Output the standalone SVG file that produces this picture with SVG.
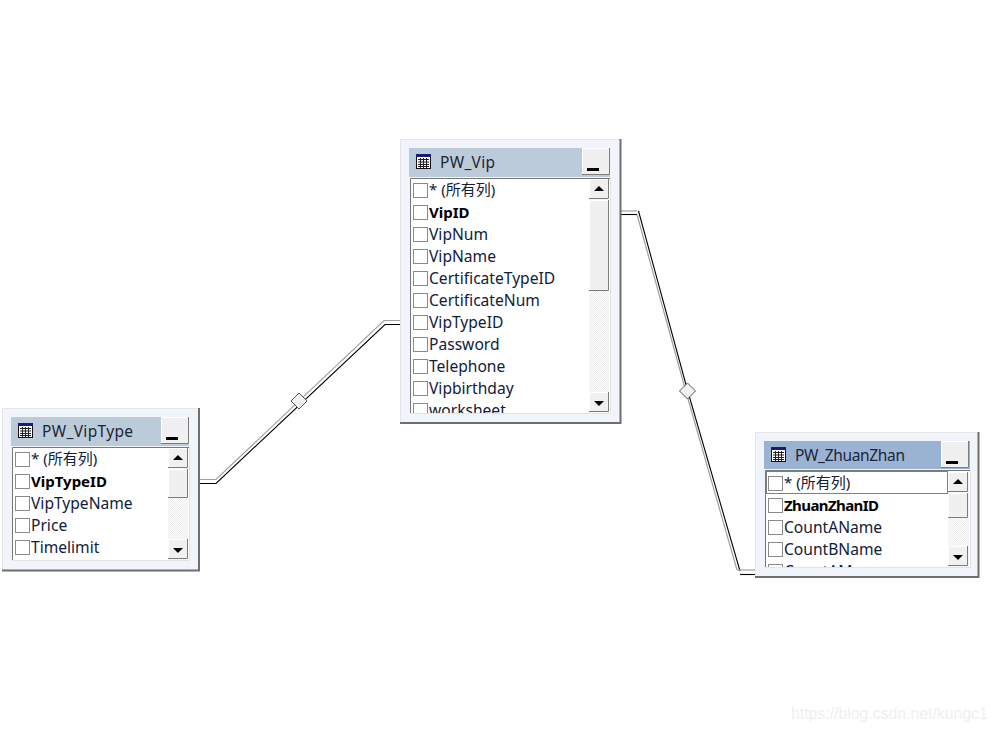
<svg xmlns="http://www.w3.org/2000/svg" width="995" height="731" viewBox="0 0 995 731">
<style>
text{font-family:"Noto Sans","Noto Sans CJK SC",sans-serif;font-size:15.6px;fill:#10203a}
.s{font-size:15px}
.b{font-size:15px;font-weight:700;fill:#000}
.t{font-size:15.5px;fill:#1c2533}
.frame{fill:#f1f4fa;stroke:#e4e6e8;stroke-width:1}
.edgeR{fill:none;stroke:#6f6f6f;stroke-width:2}
.list{fill:#fff}
.ltl{fill:none;stroke:#777;stroke-width:1}
.lbr{fill:none;stroke:#e4e4e4;stroke-width:1}
.cb{fill:#fff;stroke:#8a8a8a;stroke-width:1}
.btn{fill:#f0f0f0}
.hl{fill:none;stroke:#fff;stroke-width:1}
.sh{fill:none;stroke:#7c7c7c;stroke-width:1}
.gl{fill:none;stroke:#a0a0a0;stroke-width:1.2}
.bl{fill:none;stroke:#000;stroke-width:1.1}
.dia{fill:#f0f0f0;stroke:#555;stroke-width:1}
.wm{font-family:"Liberation Sans",sans-serif;font-size:15.8px;fill:#efefef}
</style>
<defs>
<pattern id="hatch" width="2" height="2" patternUnits="userSpaceOnUse"><rect width="2" height="2" fill="#fff"/><rect width="1" height="1" fill="#ececec"/><rect x="1" y="1" width="1" height="1" fill="#ececec"/></pattern>
<g id="icon"><rect x="0" y="0" width="15" height="15" fill="#111"/><rect x="0" y="0" width="15" height="3" fill="#1a1a78"/><rect x="1" y="3" width="13" height="11" fill="#fff"/><path d="M2 5.500H13M2 8H13M2 10.500H13M2 12.500H13M4.500 4V14M7.500 4V14M10.500 4V14" stroke="#222" stroke-width="1" fill="none"/></g>
<g id="min"><rect x="0" y="0" width="28" height="27" class="btn"/><path d="M0.500 27V0.500H28" class="hl"/><path d="M27.500 0V26.500H0" class="sh"/><rect x="5" y="20" width="12" height="3" fill="#000"/></g>
<g id="up"><rect x="0" y="0" width="20" height="20" class="btn"/><path d="M0.500 20V0.500H20" class="hl"/><path d="M19.500 0V19.500H0" class="sh"/><path d="M10 7L15 12H5Z" fill="#000"/></g>
<g id="dn"><rect x="0" y="0" width="20" height="20" class="btn"/><path d="M0.500 20V0.500H20" class="hl"/><path d="M19.500 0V19.500H0" class="sh"/><path d="M10 14L15 9H5Z" fill="#000"/></g>
<clipPath id="c1"><rect x="411" y="179" width="178" height="234"/></clipPath>
<clipPath id="c3"><rect x="765" y="471" width="183" height="96"/></clipPath>
</defs>
<rect width="995" height="731" fill="#fff"/>
<g id="connectors">
<path class="gl" d="M621 211H637.500"/><path class="bl" d="M621 214.500H637"/>
<path class="bl" d="M638.500 211L688 392L740 571"/><path class="gl" d="M637 214.500L686 392L737 570"/>
<path class="gl" d="M737 570H755"/><path class="bl" d="M740 574.500H755"/>
<path class="gl" d="M200 479.500H216L384 320.500H400"/><path class="bl" d="M200 483.500H216L385 324.500H400"/>
<path class="dia" d="M299 393L307 401L299 409L291 401Z"/>
<path class="dia" d="M687.500 383L695.500 391L687.500 399L679.500 391Z"/>
</g>
<g id="PW_Vip">
<rect x="400.500" y="139.500" width="220" height="283" class="frame"/><path d="M620.500 139V423H400" class="edgeR"/>
<rect x="409" y="148" width="201" height="29" fill="#bccbda"/>
<use href="#icon" x="416" y="154"/><text class="t" x="440" y="168" textLength="55">PW_Vip</text>
<use href="#min" x="582" y="148"/>
<rect x="410" y="178" width="200" height="236" class="list"/><path class="ltl" d="M410.500 414V178.500H610"/><path class="lbr" d="M610.500 178V413.500H410"/>
<g clip-path="url(#c1)">
<rect x="413.500" y="183.500" width="14" height="14" class="cb"/><text x="429" y="195" class="s">* (所有列)</text>
<rect x="413.500" y="205.500" width="14" height="14" class="cb"/><text x="429" y="218" class="b">VipID</text>
<rect x="413.500" y="227.500" width="14" height="14" class="cb"/><text x="429" y="240">VipNum</text>
<rect x="413.500" y="249.500" width="14" height="14" class="cb"/><text x="429" y="262">VipName</text>
<rect x="413.500" y="271.500" width="14" height="14" class="cb"/><text x="429" y="284">CertificateTypeID</text>
<rect x="413.500" y="293.500" width="14" height="14" class="cb"/><text x="429" y="306">CertificateNum</text>
<rect x="413.500" y="315.500" width="14" height="14" class="cb"/><text x="429" y="328">VipTypeID</text>
<rect x="413.500" y="337.500" width="14" height="14" class="cb"/><text x="429" y="350">Password</text>
<rect x="413.500" y="359.500" width="14" height="14" class="cb"/><text x="429" y="372">Telephone</text>
<rect x="413.500" y="381.500" width="14" height="14" class="cb"/><text x="429" y="394">Vipbirthday</text>
<rect x="413.500" y="403.500" width="14" height="14" class="cb"/><text x="429" y="416">worksheet</text>
</g>
<rect x="589" y="179" width="20" height="234" fill="url(#hatch)"/>
<use href="#up" x="589" y="179"/>
<g transform="translate(589 200)"><rect width="20" height="91" class="btn"/><path d="M0.500 91V0.500H20" class="hl"/><path d="M19.500 0V90.500H0" class="sh"/></g>
<use href="#dn" x="589" y="392"/>
</g>
<g id="PW_VipType">
<rect x="2.500" y="408.500" width="197" height="162" class="frame"/><path d="M199 408V570.500H2" class="edgeR"/>
<rect x="11" y="417" width="178" height="29" fill="#bccbda"/>
<use href="#icon" x="18" y="423"/><text class="t" x="42" y="437" textLength="91">PW_VipType</text>
<use href="#min" x="161" y="417"/>
<rect x="12" y="447" width="177" height="114" class="list"/><path class="ltl" d="M12.500 561V447.500H189"/><path class="lbr" d="M189.500 447V560.500H12"/>
<rect x="15.500" y="452.500" width="14" height="14" class="cb"/><text x="31" y="464" class="s">* (所有列)</text>
<rect x="15.500" y="474.500" width="14" height="14" class="cb"/><text x="31" y="487" class="b">VipTypeID</text>
<rect x="15.500" y="496.500" width="14" height="14" class="cb"/><text x="31" y="509">VipTypeName</text>
<rect x="15.500" y="518.500" width="14" height="14" class="cb"/><text x="31" y="531">Price</text>
<rect x="15.500" y="540.500" width="14" height="14" class="cb"/><text x="31" y="553">Timelimit</text>
<rect x="168" y="448" width="20" height="112" fill="url(#hatch)"/>
<use href="#up" x="168" y="448"/>
<g transform="translate(168 469)"><rect width="20" height="29" class="btn"/><path d="M0.500 29V0.500H20" class="hl"/><path d="M19.500 0V28.500H0" class="sh"/></g>
<use href="#dn" x="168" y="539"/>
</g>
<g id="PW_ZhuanZhan">
<rect x="755.500" y="432.500" width="223" height="144" class="frame"/><path d="M978.500 432V577H755" class="edgeR"/>
<rect x="764" y="441" width="206" height="28" fill="#9ab3d3"/>
<use href="#icon" x="771" y="447"/><text class="t" x="795" y="461" textLength="110">PW_ZhuanZhan</text>
<use href="#min" x="941" y="441"/>
<rect x="765" y="470" width="205" height="98" class="list"/><path class="ltl" d="M765.500 568V470.500H970"/><path class="lbr" d="M970.500 470V567.500H765"/>
<g clip-path="url(#c3)">
<rect x="766.500" y="471.500" width="181" height="22" fill="none" stroke="#000" stroke-dasharray="1 1"/>
<rect x="768.500" y="476.500" width="14" height="14" class="cb"/><text x="784" y="488" class="s">* (所有列)</text>
<rect x="768.500" y="498.500" width="14" height="14" class="cb"/><text x="784" y="511" class="b" textLength="95">ZhuanZhanID</text>
<rect x="768.500" y="520.500" width="14" height="14" class="cb"/><text x="784" y="533">CountAName</text>
<rect x="768.500" y="542.500" width="14" height="14" class="cb"/><text x="784" y="555">CountBName</text>
<rect x="768.500" y="564.500" width="14" height="14" class="cb"/><text x="784" y="577">CountAMoney</text>
</g>
<rect x="948" y="472" width="21" height="95" fill="url(#hatch)"/>
<use href="#up" x="948" y="472"/>
<g transform="translate(948 493)"><rect width="20" height="25" class="btn"/><path d="M0.500 25V0.500H20" class="hl"/><path d="M19.500 0V24.500H0" class="sh"/></g>
<use href="#dn" x="948" y="546"/>
</g>
<text class="wm" x="791" y="719">https://blog.csdn.net/kungc1</text>
</svg>
